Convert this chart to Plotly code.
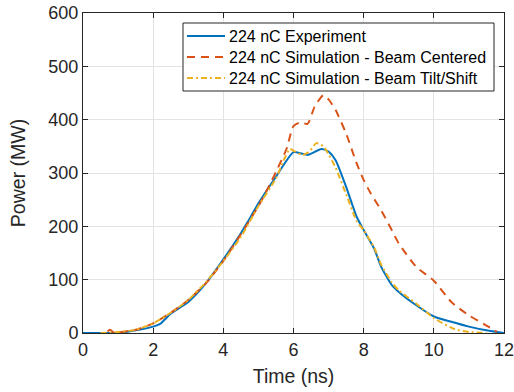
import plotly.graph_objects as go

exp_t = [0, 0.5, 1, 1.5, 2, 2.2, 2.5, 3, 3.5, 4, 4.5, 4.7, 5, 5.5, 6, 6.2, 6.4, 6.8, 7, 7.2, 7.5, 7.8, 8, 8.3, 8.5, 8.8, 9, 9.5, 10, 10.5, 11, 11.5, 12]
exp_p = [0, 0, 0, 5, 12, 17, 36, 58, 93, 138, 187, 209, 243, 293, 339, 337, 334, 345, 340, 324, 274, 218, 193, 158, 124, 90, 77, 52, 31, 21, 12, 5, 0]

cen_t = [0.7, 0.77, 0.9, 1.0, 1.5, 2, 2.5, 3, 3.5, 4, 4.5, 5, 5.2, 5.5, 5.8, 6.0, 6.2, 6.4, 6.6, 6.85, 7, 7.2, 7.5, 7.8, 8, 8.2, 8.5, 8.8, 9, 9.5, 10, 10.5, 11, 11.5, 11.8]
cen_p = [3, 6, 0, 1, 6, 18, 38, 62, 93, 135, 185, 238, 262, 302, 345, 388, 395, 392, 424, 446, 438, 418, 374, 318, 287, 262, 230, 193, 168, 124, 98, 58, 33, 14, 2]

tilt_t = [0.5, 1, 1.5, 2, 2.5, 3, 3.5, 4, 4.5, 5, 5.5, 5.75, 5.9, 6.05, 6.25, 6.45, 6.65, 6.85, 7, 7.2, 7.5, 7.8, 8, 8.3, 8.5, 8.8, 9, 9.5, 10, 10.6, 11, 11.5]
tilt_p = [0, 2, 6, 18, 38, 62, 95, 135, 180, 238, 290, 328, 345, 340, 334, 340, 356, 350, 335, 310, 260, 210, 193, 160, 128, 95, 80, 55, 28, 7, 2, 0]

names = ["224 nC Experiment", "224 nC Simulation - Beam Centered", "224 nC Simulation - Beam Tilt/Shift"]
colors = ["#0072BD", "#D95319", "#EDB120"]
dashes = ["solid", "8px,6px", "6px,3px,2px,3px"]

FONT = "Liberation Sans, Arial, Helvetica, sans-serif"

fig = go.Figure()
for t, p, n, c, d in zip([exp_t, cen_t, tilt_t], [exp_p, cen_p, tilt_p], names, colors, dashes):
    fig.add_trace(go.Scatter(x=t, y=p, name=n, mode="lines", showlegend=False,
                             line=dict(color=c, width=2, dash=d, shape="spline", smoothing=0.6)))

axis_common = dict(showline=True, linecolor="#262626", linewidth=1, mirror="ticks",
                   ticks="inside", ticklen=5, tickcolor="#262626",
                   showgrid=True, gridcolor="#e3e3e3", gridwidth=1, zeroline=False,
                   automargin=False, ticklabeloverflow="allow",
                   tickfont=dict(family=FONT, size=18, color="#262626"),
                   title_font=dict(family=FONT, size=19.5, color="#262626"))

# plot area in pixels: x 83..504, y 13..333
PL, PR, PT, PB = 83, 504, 13, 333
def px(X):
    return (X - PL) / (PR - PL)
def py(Y):
    return (PB - Y) / (PB - PT)

shapes = [dict(type="rect", xref="paper", yref="paper",
               x0=px(183), x1=px(494), y0=py(91), y1=py(23),
               fillcolor="white", line=dict(color="#262626", width=1), layer="above")]
annotations = []
rows = [36, 57, 78]
for n, c, d, r in zip(names, colors, dashes, rows):
    shapes.append(dict(type="line", xref="paper", yref="paper",
                       x0=px(187), x1=px(225), y0=py(r), y1=py(r),
                       line=dict(color=c, width=2, dash=d), layer="above"))
    annotations.append(dict(xref="paper", yref="paper", x=px(227), y=py(r + 0.5),
                            xanchor="left", yanchor="middle", showarrow=False,
                            text=n, font=dict(family=FONT, size=16, color="#000000")))

fig.update_layout(
    width=514, height=392,
    margin=dict(l=PL, r=514 - PR, t=PT, b=392 - PB),
    plot_bgcolor="white", paper_bgcolor="white",
    showlegend=False,
    shapes=shapes, annotations=annotations,
    xaxis=dict(range=[0, 12], dtick=2, title=dict(text="Time (ns)", standoff=10), **axis_common),
    yaxis=dict(range=[0, 600], dtick=100, title=dict(text="Power (MW)", standoff=17), **axis_common),
)

fig.write_html("out.html")
